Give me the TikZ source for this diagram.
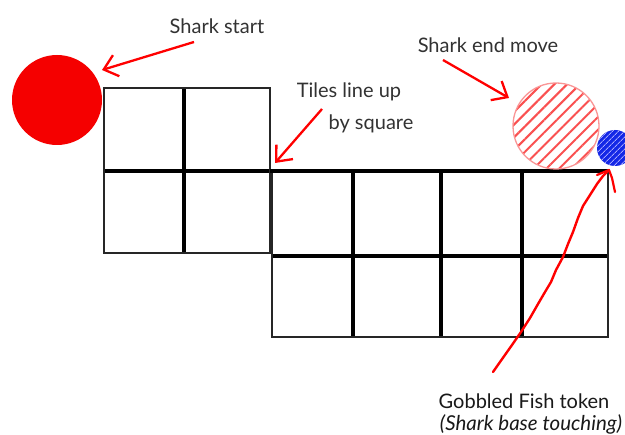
\documentclass[tikz,border=0pt]{standalone}
\usepackage{fontspec}
\setmainfont{Lato}
\usetikzlibrary{arrows.meta,patterns.meta}
\definecolor{shark}{RGB}{245,0,0}
\definecolor{hatch}{RGB}{250,80,80}
\definecolor{ring}{RGB}{250,150,150}
\definecolor{fish}{RGB}{20,40,230}
\definecolor{lbl}{RGB}{50,50,50}
\tikzset{
  outer/.style={line width=2pt,draw=black!85},
  inner/.style={line width=3.6pt,draw=black},
  redarrow/.style={draw=red,line width=2.3pt,-{Straight Barb[length=13pt,width=22pt,line width=2.3pt]}},
  lab/.style={text=lbl,font=\fontsize{20}{24}\selectfont,inner sep=0pt},
  blab/.style={text=black!90,font=\fontsize{20}{22}\selectfont,inner sep=0pt},
  ilab/.style={text=black!90,font=\fontsize{20.5}{22}\selectfont\itshape,inner sep=0pt},
}
\begin{document}
\begin{tikzpicture}[x=1pt,y=-1pt]
\useasboundingbox (0,0) rectangle (625,435);
\fill[white] (0,0) rectangle (625,435);
\clip (0,0) rectangle (625,435);
% left tile block
\draw[inner] (104,171) -- (270,171);
\draw[inner] (184,88) -- (184,253);
\draw[outer] (104,88) rectangle (270,253);
% right tile block
\draw[inner] (272,256) -- (608,256);
\foreach \x in {353,441,522} \draw[inner] (\x,172) -- (\x,337);
\draw[outer] (272,172) rectangle (608,337);
\draw[inner] (270,171) -- (608,171);
% shark start
\node[circle,fill=shark,minimum size=90pt,inner sep=0pt] (start) at (57,100) {};
% shark end
\node[circle,draw=ring,line width=1.3pt,pattern={Lines[angle=45,distance=9pt,line width=2pt]},pattern color=hatch,minimum size=86pt,inner sep=0pt] (end) at (556,126) {};
% fish
\node[circle,fill=fish,minimum size=36pt,inner sep=0pt] (fish) at (615,148) {};
\node[circle,pattern={Lines[angle=45,distance=4pt,line width=1pt]},pattern color=blue!35,minimum size=36pt,inner sep=0pt] at (615,148) {};
% labels
\node[lab] (l1) at (217,26) {Shark start};
\node[lab] (l2) at (488,45) {Shark end move};
\node[lab] (l3) at (349,92) {Tiles line up};
\node[lab] (l4) at (371,124) {by square};
\node[blab] (l5) at (524,401) {Gobbled Fish token};
\node[ilab] (l6) at (531,424) {(Shark base touching)};
% arrows
\coordinate (a1) at (194,42);
\coordinate (t1) at (102,70);
\draw[redarrow] (a1) -- (t1);
\coordinate (a2) at (322,109);
\coordinate (t2) at (275,163);
\draw[redarrow] (a2) -- (t2);
\coordinate (a3) at (443,60);
\coordinate (t3) at (509,98);
\draw[redarrow] (a3) -- (t3);
% hand-drawn arrow to fish
\coordinate (g0) at (493,372);
\coordinate (gt) at (609,170);
\draw[red,line width=2.4pt,line join=round,line cap=round]
  (g0) -- (500,362) -- (512,345) -- (521,332) -- (530,318) -- (538,304) -- (545,292)
  -- (551,282) -- (556,270) -- (563,257) -- (568,244) -- (573,232) -- (578,218)
  -- (583,206) -- (590,195) -- (597,184) -- (603,176) -- (gt);
\draw[red,line width=2.2pt,line cap=round,line join=round] (597,175) -- (gt) -- (612,178) -- (615,192);
\end{tikzpicture}
\end{document}
